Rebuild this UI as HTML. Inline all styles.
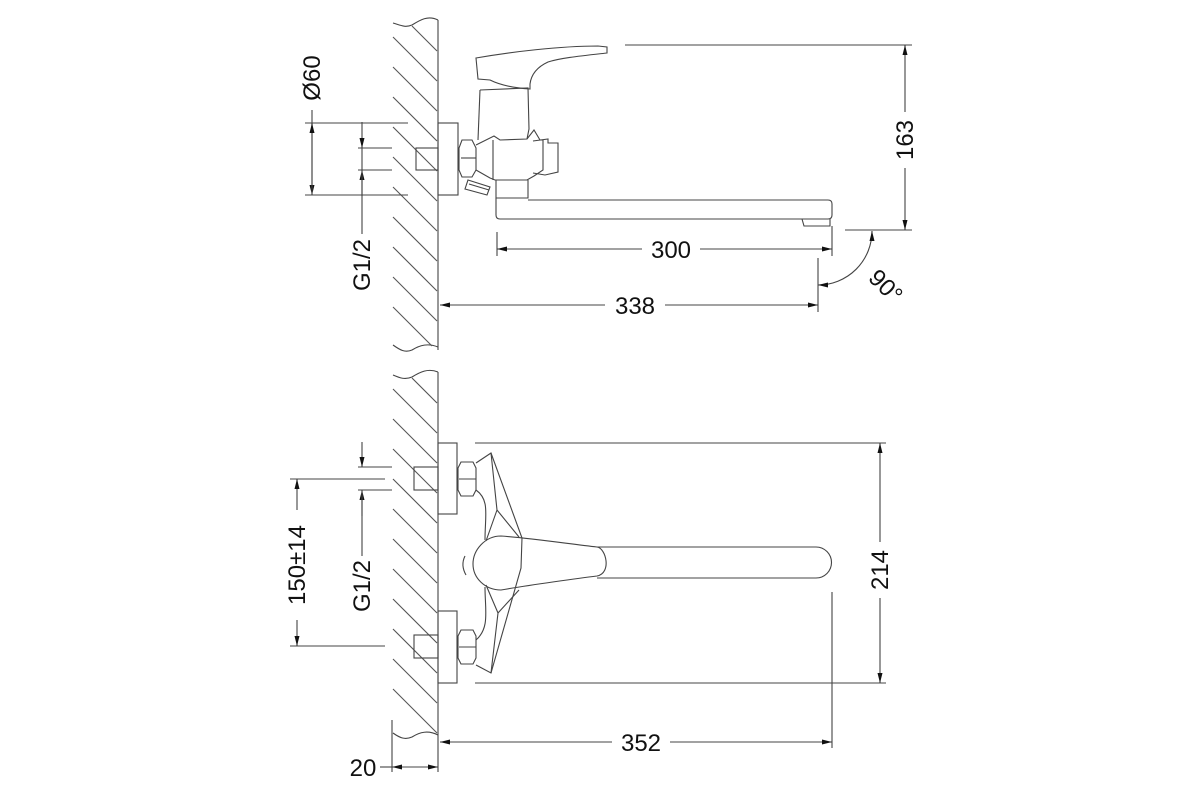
<!DOCTYPE html>
<html><head><meta charset="utf-8"><style>
html,body{margin:0;padding:0;background:#fff;}
svg{display:block;}
text{font-family:"Liberation Sans",sans-serif;font-size:24px;fill:#111;}
</style></head><body>
<svg width="1200" height="800" viewBox="0 0 1200 800" xmlns="http://www.w3.org/2000/svg">
<defs>
<marker id="a" viewBox="0 0 10 10" refX="10" refY="5" markerWidth="10" markerHeight="10" markerUnits="userSpaceOnUse" orient="auto-start-reverse"><path d="M0,2.5 L10,5 L0,7.5 Z" fill="#111"/></marker>
</defs>
<g fill="none" stroke="#444" stroke-width="1.1">
<line x1="438" y1="20" x2="438" y2="350"/>
<path d="M393,23 C400,25 405,28 412,25 C420,20 428,15 438,20"/>
<path d="M393,345 C400,350 405,353 412,350 C420,345 428,343 438,347"/>
<g stroke="#555">
<line x1="412" y1="26" x2="437" y2="51"/>
<line x1="393" y1="37" x2="437" y2="81"/>
<line x1="393" y1="67" x2="437" y2="111"/>
<line x1="393" y1="97" x2="437" y2="141"/>
<line x1="393" y1="127" x2="437" y2="171"/>
<line x1="393" y1="157" x2="437" y2="201"/>
<line x1="393" y1="187" x2="437" y2="231"/>
<line x1="393" y1="217" x2="437" y2="261"/>
<line x1="393" y1="247" x2="437" y2="291"/>
<line x1="393" y1="277" x2="437" y2="321"/>
<line x1="393" y1="307" x2="432" y2="346"/>
</g>
<rect x="438" y="123" width="20" height="72"/>
<rect x="416" y="148" width="22" height="22"/>
<path d="M462,140 L472,140 L476,148 L476,170 L472,177 L462,177 L459,170 L459,148 Z"/>
<path d="M461,158 L476,158"/>
<path d="M476,145 L494,136 L500,140 L527,139 L534,130 L540,140 L543,140 L543,170 L534,176 L527,180 L495,180 L490,178 L476,170"/>
<path d="M493,140 L493,180"/>
<path d="M533,141 L548,139 L548,143 L558,143 L558,172 L545,175 L533,173"/>
<path d="M468,180 L490,187 L487,195 L465,189 Z M469,184 L489,190"/>
<path d="M480,90 L528,88 L529,129 L527,139"/>
<path d="M480,90 L478,140"/>
<path d="M496,180 L496,198 L528,198 L528,180"/>
<path d="M476,58 C510,52 560,46 598,46 L607,47 L607,53 C580,56 560,58 548,62 C535,68 531,76 530,84 L530,89 C515,88 500,85 490,80 L478,79 Z"/>
<path d="M496,198 L496,215 Q496,219 500,219 L818,219"/>
<path d="M528,200 L828,200 Q832,200 832,204 L832,215 Q832,219 828,219 L818,219"/>
<path d="M802,219 L804,226 L830,226 L830,219"/>
<line x1="625" y1="45" x2="912" y2="45"/>
<line x1="845" y1="230" x2="912" y2="230"/>
<line x1="905" y1="45" x2="905" y2="230" marker-start="url(#a)" marker-end="url(#a)"/>
<line x1="497" y1="232" x2="497" y2="256"/>
<line x1="832" y1="226" x2="832" y2="256"/>
<line x1="497" y1="249" x2="832" y2="249" marker-start="url(#a)" marker-end="url(#a)"/>
<line x1="818" y1="258" x2="818" y2="312"/>
<line x1="440" y1="305" x2="818" y2="305" marker-start="url(#a)" marker-end="url(#a)"/>
<path d="M872,231 A54,54 0 0 1 818,285" marker-start="url(#a)" marker-end="url(#a)"/>
<line x1="305" y1="123" x2="408" y2="123"/>
<line x1="305" y1="195" x2="408" y2="195"/>
<line x1="312" y1="110" x2="312" y2="195" marker-end="url(#a)"/>
<line x1="312" y1="123" x2="312" y2="195" marker-start="url(#a)"/>
<line x1="358" y1="148" x2="392" y2="148"/>
<line x1="358" y1="170" x2="392" y2="170"/>
<line x1="362" y1="122" x2="362" y2="148" marker-end="url(#a)"/>
<line x1="362" y1="196" x2="362" y2="170" marker-end="url(#a)"/>
<line x1="362" y1="148" x2="362" y2="236"/>

<line x1="438" y1="372" x2="438" y2="740"/>
<path d="M393,375 C400,378 405,380 412,377 C420,372 428,368 438,372"/>
<path d="M393,733 C400,738 405,740 412,737 C420,732 428,730 438,735"/>
<g stroke="#555">
<line x1="412" y1="378" x2="437" y2="403"/>
<line x1="393" y1="389" x2="437" y2="433"/>
<line x1="393" y1="419" x2="437" y2="463"/>
<line x1="393" y1="449" x2="437" y2="493"/>
<line x1="393" y1="479" x2="437" y2="523"/>
<line x1="393" y1="509" x2="437" y2="553"/>
<line x1="393" y1="539" x2="437" y2="583"/>
<line x1="393" y1="569" x2="437" y2="613"/>
<line x1="393" y1="599" x2="437" y2="643"/>
<line x1="393" y1="629" x2="437" y2="673"/>
<line x1="393" y1="659" x2="437" y2="703"/>
<line x1="393" y1="689" x2="437" y2="733"/>
</g>
<rect x="438" y="443" width="19" height="71"/>
<rect x="438" y="611" width="19" height="72"/>
<rect x="414" y="467" width="24" height="23"/>
<rect x="414" y="635" width="24" height="23"/>
<path d="M461,462 L473,462 L476,468 L476,490 L473,496 L461,496 L458,490 L458,468 Z M459,479 L476,479"/>
<path d="M461,630 L473,630 L476,636 L476,658 L473,664 L461,664 L458,658 L458,636 Z M459,647 L476,647"/>
<path d="M476,463 L491,453 L522,538 L521,568 L491,673 L476,665"/>
<path d="M491,453 L497,510 L519,537 M497,510 L486,541"/>
<path d="M491,673 L498,613 L519,590 M498,613 L486,585"/>
<path d="M476,490 C490,500 485,515 485,540 M476,640 C490,628 485,610 485,587"/>
<path d="M501,536 C485,536 473,550 473,564 C473,578 485,590 501,590 C530,585 580,578 597,576 C612,573 606,548 597,547 C570,544 530,538 501,536 Z"/>
<path d="M465,556 C462,562 462,568 466,575"/>
<path d="M597,547 L816,547 A15.5,15.5 0 0 1 816,578 L597,578"/>
<line x1="475" y1="443" x2="886" y2="443"/>
<line x1="475" y1="683" x2="886" y2="683"/>
<line x1="880" y1="443" x2="880" y2="683" marker-start="url(#a)" marker-end="url(#a)"/>
<line x1="832" y1="592" x2="832" y2="748"/>
<line x1="440" y1="742" x2="832" y2="742" marker-start="url(#a)" marker-end="url(#a)"/>
<line x1="290" y1="479" x2="385" y2="479"/>
<line x1="290" y1="646" x2="385" y2="646"/>
<line x1="297" y1="479" x2="297" y2="646" marker-start="url(#a)" marker-end="url(#a)"/>
<line x1="358" y1="467" x2="392" y2="467"/>
<line x1="358" y1="490" x2="392" y2="490"/>
<line x1="362" y1="442" x2="362" y2="467" marker-end="url(#a)"/>
<line x1="362" y1="516" x2="362" y2="490" marker-end="url(#a)"/>
<line x1="362" y1="490" x2="362" y2="556"/>
<line x1="392" y1="720" x2="392" y2="772"/>
<line x1="438" y1="740" x2="438" y2="772"/>
<line x1="392" y1="767" x2="438" y2="767" marker-start="url(#a)" marker-end="url(#a)"/>
<line x1="380" y1="767" x2="392" y2="767"/>
</g>
<g>
<rect x="642" y="236" width="58" height="26" fill="#fff"/>
<text x="671" y="258" text-anchor="middle">300</text>
<rect x="605" y="292" width="60" height="26" fill="#fff"/>
<text x="635" y="314" text-anchor="middle">338</text>
<rect x="612" y="729" width="58" height="26" fill="#fff"/>
<text x="641" y="751" text-anchor="middle">352</text>
<text x="363" y="776" text-anchor="middle">20</text>
<rect x="892" y="112" width="26" height="56" fill="#fff"/>
<text transform="translate(913,140) rotate(-90)" text-anchor="middle">163</text>
<rect x="867" y="542" width="26" height="56" fill="#fff"/>
<text transform="translate(888,570) rotate(-90)" text-anchor="middle">214</text>
<text transform="translate(320,78) rotate(-90)" text-anchor="middle">Ø60</text>
<rect x="349" y="234" width="26" height="62" fill="#fff"/>
<text transform="translate(370,265) rotate(-90)" text-anchor="middle">G1/2</text>
<text transform="translate(370,586) rotate(-90)" text-anchor="middle">G1/2</text>
<rect x="284" y="510" width="26" height="110" fill="#fff"/>
<text transform="translate(305,565) rotate(-90)" text-anchor="middle">150±14</text>
<text transform="translate(880,292) rotate(45)" text-anchor="middle">90°</text>
</g>
</svg>
</body></html>
